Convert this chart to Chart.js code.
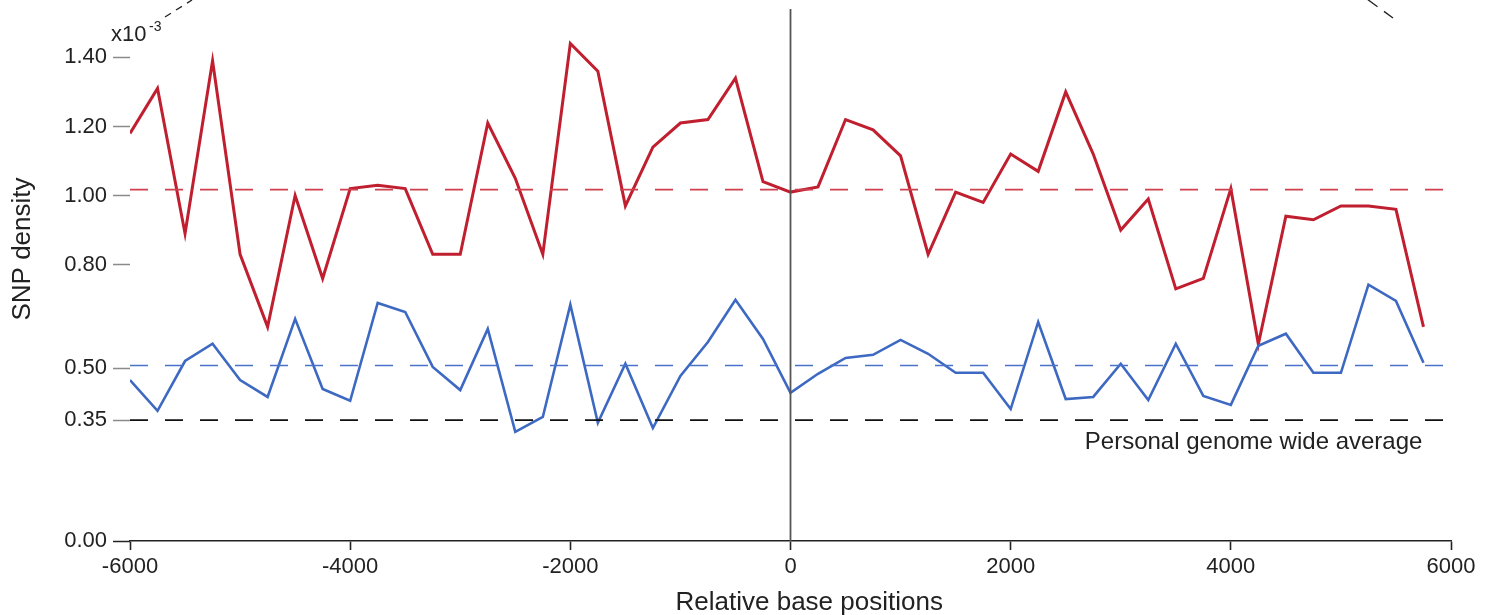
<!DOCTYPE html>
<html lang="en">
<head>
    <meta charset="UTF-8">
    <title>SNP density</title>
    <script src="https://cdn.jsdelivr.net/npm/chart.js"></script>
    <style>
        body {
            margin: 0;
            background: #fff;
        }
        #snpChart {
            display: block;
        }
    </style>
</head>
<body>
<canvas id="snpChart" width="1497" height="615"></canvas>

<script>
    const positions = [-6000, -5750, -5500, -5250, -5000, -4750, -4500, -4250, -4000, -3750, -3500, -3250,
        -3000, -2750, -2500, -2250, -2000, -1750, -1500, -1250, -1000, -750, -500, -250,
        0, 250, 500, 750, 1000, 1250, 1500, 1750, 2000, 2250, 2500, 2750,
        3000, 3250, 3500, 3750, 4000, 4250, 4500, 4750, 5000, 5250, 5500, 5750];

    const redDensity = [1.18, 1.31, 0.89, 1.39, 0.83, 0.62, 1.00, 0.76, 1.02, 1.03, 1.02, 0.83,
        0.83, 1.21, 1.05, 0.83, 1.44, 1.36, 0.97, 1.14, 1.21, 1.22, 1.34, 1.04,
        1.01, 1.025, 1.22, 1.19, 1.115, 0.83, 1.01, 0.98, 1.12, 1.07, 1.30, 1.12,
        0.90, 0.99, 0.73, 0.76, 1.02, 0.57, 0.94, 0.93, 0.97, 0.97, 0.96, 0.62];

    const blueDensity = [0.466, 0.377, 0.521, 0.571, 0.466, 0.417, 0.643, 0.440, 0.406, 0.689, 0.663, 0.504,
        0.437, 0.614, 0.316, 0.359, 0.684, 0.342, 0.513, 0.327, 0.478, 0.576, 0.698, 0.585,
        0.429, 0.484, 0.530, 0.539, 0.582, 0.542, 0.487, 0.487, 0.382, 0.634, 0.411, 0.417,
        0.513, 0.408, 0.571, 0.420, 0.394, 0.565, 0.600, 0.487, 0.487, 0.742, 0.695, 0.516];

    const redAverage = 1.017;
    const blueAverage = 0.508;
    const genomeAverage = 0.35;

    const yTickValues = [0, 0.35, 0.5, 0.8, 1.0, 1.2, 1.4];
    const xMin = -6000, xMax = 6000, yMax = 1.54;

    const fontFamily = '"Liberation Sans", Arial, Helvetica, sans-serif';
    const textColor = '#222';

    function toPoints(values) {
        return positions.map((p, i) => ({x: p, y: values[i]}));
    }

    function flatLine(value) {
        return [{x: xMin, y: value}, {x: xMax, y: value}];
    }

    // axis titles, extra text and the dashed marks cut off at the top corners
    const notesPlugin = {
        id: 'notes',
        afterDraw(chart) {
            const ctx = chart.ctx;
            const xs = chart.scales.x;
            const ys = chart.scales.y;
            ctx.save();
            ctx.fillStyle = textColor;
            ctx.textBaseline = 'alphabetic';
            ctx.font = '22px ' + fontFamily;
            ctx.fillText('x10', 111, 41);
            ctx.font = '14px ' + fontFamily;
            ctx.fillText('-3', 149, 31);

            ctx.font = '24px ' + fontFamily;
            ctx.textAlign = 'right';
            ctx.fillText('Personal genome wide average', xs.getPixelForValue(5740), ys.getPixelForValue(genomeAverage) + 29);

            // x title sits a bit right of the axis middle in the original
            ctx.textAlign = 'center';
            ctx.font = '26px ' + fontFamily;
            ctx.fillText('Relative base positions', xs.getPixelForValue(170), 610);

            // y title, a little above the middle of the plot
            ctx.save();
            ctx.translate(30, 249);
            ctx.rotate(-Math.PI / 2);
            ctx.fillText('SNP density', 0, 0);
            ctx.restore();

            ctx.strokeStyle = '#222';
            ctx.lineWidth = 1.3;
            ctx.setLineDash([7, 6]);
            ctx.beginPath();
            ctx.moveTo(165, 17);
            ctx.lineTo(192, 0);
            ctx.stroke();
            ctx.setLineDash([13, 8]);
            ctx.beginPath();
            ctx.moveTo(1367, -1);
            ctx.lineTo(1393, 18);
            ctx.stroke();
            ctx.restore();
        }
    };

    function renderChart() {
        const ctx = document.getElementById('snpChart').getContext('2d');
        new Chart(ctx, {
            type: 'line',
            data: {
                datasets: [{
                    data: flatLine(redAverage),
                    borderColor: '#d0414f',
                    borderWidth: 1.6,
                    borderDash: [18, 17]
                }, {
                    data: flatLine(blueAverage),
                    borderColor: '#4a72c8',
                    borderWidth: 1.4,
                    borderDash: [18, 17]
                }, {
                    data: flatLine(genomeAverage),
                    borderColor: '#111',
                    borderWidth: 1.6,
                    borderDash: [18, 17]
                }, {
                    data: [{x: 0, y: 0}, {x: 0, y: yMax}],
                    borderColor: '#555',
                    borderWidth: 1.8
                }, {
                    data: toPoints(blueDensity),
                    borderColor: '#3d69c2',
                    borderWidth: 2.6,
                    borderJoinStyle: 'miter'
                }, {
                    data: toPoints(redDensity),
                    borderColor: '#c01f2f',
                    borderWidth: 3,
                    borderJoinStyle: 'miter'
                }]
            },
            options: {
                responsive: false,
                animation: false,
                devicePixelRatio: 1,
                layout: {
                    padding: {top: 9, right: 46, bottom: 0, left: 0}
                },
                elements: {
                    point: {radius: 0},
                    line: {tension: 0, fill: false}
                },
                plugins: {
                    legend: {display: false},
                    tooltip: {enabled: false}
                },
                scales: {
                    x: {
                        type: 'linear',
                        min: xMin,
                        max: xMax,
                        border: {display: true, color: '#222', width: 1.6},
                        grid: {
                            drawOnChartArea: false,
                            drawTicks: true,
                            tickLength: 9,
                            tickColor: '#222',
                            tickWidth: 1.6
                        },
                        ticks: {
                            stepSize: 2000,
                            padding: 4,
                            color: textColor,
                            maxRotation: 0,
                            font: {family: fontFamily, size: 22},
                            callback: value => String(value)
                        },
                        afterFit: scale => {
                            scale.height = 74;
                        }
                    },
                    y: {
                        min: 0,
                        max: yMax,
                        border: {display: false},
                        grid: {
                            drawOnChartArea: false,
                            drawTicks: true,
                            tickLength: 17,
                            tickColor: c => c.tick && c.tick.value === 0 ? '#222' : '#8a8a8a',
                            tickWidth: 1.5
                        },
                        ticks: {
                            padding: 6,
                            color: textColor,
                            font: {family: fontFamily, size: 22},
                            callback: value => value.toFixed(2)
                        },
                        afterBuildTicks: scale => {
                            scale.ticks = yTickValues.map(v => ({value: v}));
                        },
                        afterFit: scale => {
                            scale.width = 130;
                            scale.paddingTop = 0;
                            scale.paddingBottom = 0;
                        }
                    }
                }
            },
            plugins: [notesPlugin]
        });
    }

    renderChart();
</script>
</body>
</html>
